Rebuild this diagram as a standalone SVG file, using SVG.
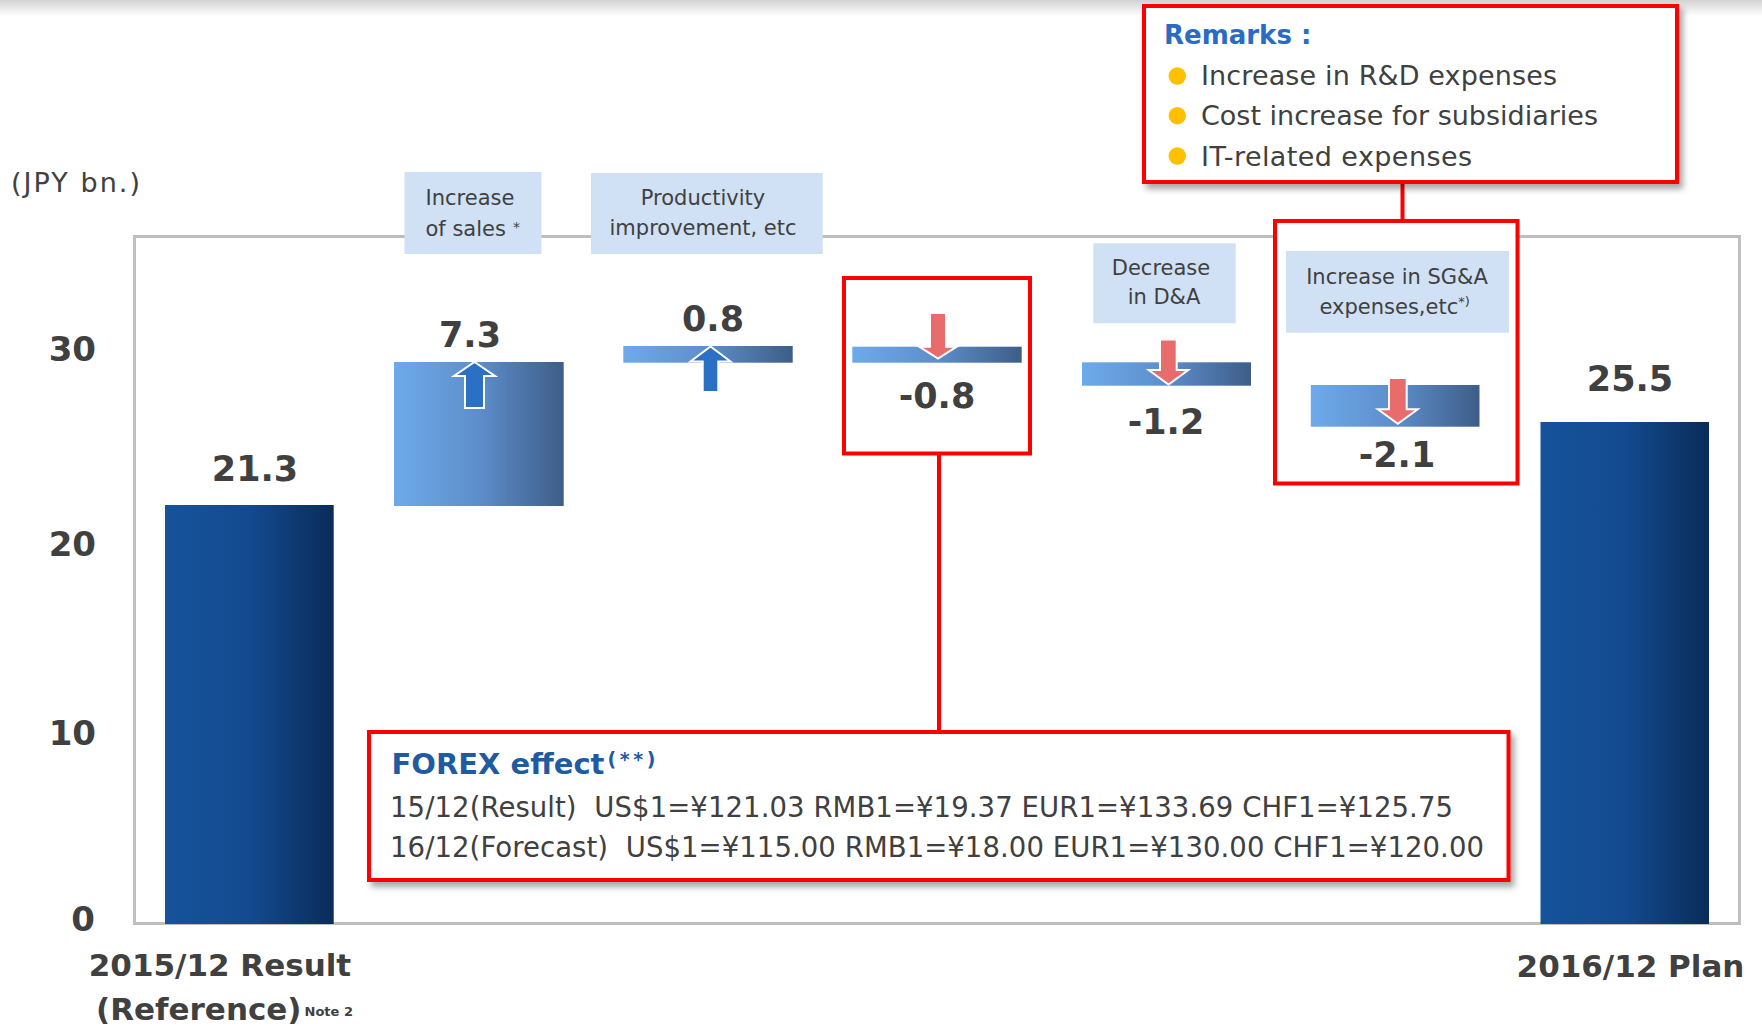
<svg xmlns="http://www.w3.org/2000/svg" width="1762" height="1029" viewBox="0 0 1762 1029">
  <style>
    .num { font-family: "DejaVu Sans", Verdana, sans-serif; font-weight: bold; fill: #404040; }
    .val { font-size: 35px; text-anchor: middle; }
    .tick { font-size: 34px; text-anchor: end; }
    .cat { font-size: 31px; }
    .txt { font-family: "DejaVu Sans", Verdana, sans-serif; fill: #404040; }
    .lbl { font-size: 21px; text-anchor: middle; }
    .tag { fill: #d0e1f5; }
    .callout { fill: #ffffff; stroke: #ff0000; stroke-width: 4; }
    .link { stroke: #ff0000; stroke-width: 4; fill: none; }
    .up { fill: #2a70c4; stroke: #ffffff; stroke-width: 2; stroke-linejoin: miter; }
    .down { fill: #e96c6c; stroke: #ffffff; stroke-width: 2; stroke-linejoin: miter; }
    .dot { fill: #ffc000; }
    .pre { white-space: pre; }
  </style>
  <defs>
    <linearGradient id="gTop" x1="0" y1="0" x2="0" y2="1">
      <stop offset="0" stop-color="#d2d2d2"/>
      <stop offset="1" stop-color="#ffffff"/>
    </linearGradient>
    <linearGradient id="gTotal" x1="0" y1="0" x2="1" y2="0">
      <stop offset="0" stop-color="#16539b"/>
      <stop offset="0.5" stop-color="#134a8f"/>
      <stop offset="1" stop-color="#0a2c58"/>
    </linearGradient>
    <linearGradient id="gDelta" x1="0" y1="0" x2="1" y2="0">
      <stop offset="0" stop-color="#6daaea"/>
      <stop offset="0.5" stop-color="#5d8ecb"/>
      <stop offset="1" stop-color="#3e5d88"/>
    </linearGradient>
    <filter id="shadow" x="-5%" y="-10%" width="115%" height="130%">
      <feDropShadow dx="4" dy="5" stdDeviation="3" flood-color="#000000" flood-opacity="0.35"/>
    </filter>
  </defs>

  <rect x="0" y="0" width="1762" height="1029" fill="#ffffff"/>
  <rect x="0" y="0" width="1762" height="16" fill="url(#gTop)"/>

  <!-- plot area and axis -->
  <g id="axis">
    <rect x="134.5" y="236.5" width="1605" height="687" fill="none" stroke="#bfbfbf" stroke-width="3"/>
    <text class="txt" x="11" y="192" font-size="27" textLength="129">(JPY bn.)</text>
    <text class="num tick" x="96" y="361">30</text>
    <text class="num tick" x="96" y="556">20</text>
    <text class="num tick" x="96" y="745">10</text>
    <text class="num tick" x="95" y="931">0</text>
  </g>

  <!-- connectors between callouts -->
  <g id="connectors">
    <line class="link" x1="939" y1="453" x2="939" y2="732"/>
    <line class="link" x1="1402.5" y1="182" x2="1402.5" y2="221"/>
  </g>

  <!-- 2015/12 result -->
  <g id="bar-2015">
    <rect x="165" y="505" width="168.7" height="419" fill="url(#gTotal)"/>
    <text class="num val" x="255" y="481">21.3</text>
    <text class="num cat" x="220" y="976" text-anchor="middle">2015/12 Result</text>
    <text class="num cat" x="96" y="1020">(Reference)<tspan font-size="13" dx="3" dy="-4">Note 2</tspan></text>
  </g>

  <!-- increase of sales -->
  <g id="step-sales">
    <rect class="tag" x="404.5" y="172" width="137" height="82"/>
    <text class="txt lbl" x="470" y="205">Increase</text>
    <text class="txt" x="425.5" y="236" font-size="21">of sales<tspan font-size="14" dx="7" dy="-4">*</tspan></text>
    <rect x="394" y="362" width="169.7" height="144" fill="url(#gDelta)"/>
    <polygon class="up" points="474.5,362 495,376 484,376 484,408 465,408 465,376 454,376"/>
    <text class="num val" x="470" y="347">7.3</text>
  </g>

  <!-- productivity improvement -->
  <g id="step-productivity">
    <rect class="tag" x="591" y="173" width="231.7" height="81"/>
    <text class="txt lbl" x="703" y="205">Productivity</text>
    <text class="txt lbl" x="703" y="235">improvement, etc</text>
    <rect x="623.3" y="346" width="169.4" height="16.7" fill="url(#gDelta)"/>
    <polygon class="up" points="710.5,346.5 730.5,361.5 718.3,361.5 718.3,392 702.7,392 702.7,361.5 690.5,361.5"/>
    <text class="num val" x="713" y="331">0.8</text>
  </g>

  <!-- -0.8 step with FOREX callout -->
  <g id="step-forex">
    <rect class="callout" x="844" y="278" width="186" height="175.5"/>
    <rect x="852.3" y="346.7" width="169.4" height="16" fill="url(#gDelta)"/>
    <polygon class="down" points="930,313 946,313 946,346.7 956.7,346.7 938,358.5 919.3,346.7 930,346.7"/>
    <text class="num val" x="937" y="408">-0.8</text>
  </g>

  <g id="forex-note">
    <rect class="callout" x="369" y="732" width="1139.5" height="148" filter="url(#shadow)"/>
    <text x="391.5" y="773.5" font-family="DejaVu Sans, Verdana, sans-serif" font-weight="bold" font-size="29" fill="#1f5ba3">FOREX effect</text>
    <text x="607.5" y="766" font-family="DejaVu Sans, Verdana, sans-serif" font-weight="bold" font-size="19" fill="#1f5ba3" textLength="48">(**)</text>
    <text class="txt pre" xml:space="preserve" x="390" y="816.5" font-size="27.5" textLength="1063">15/12(Result)  US$1=¥121.03 RMB1=¥19.37 EUR1=¥133.69 CHF1=¥125.75</text>
    <text class="txt pre" xml:space="preserve" x="390" y="856.5" font-size="27.5" textLength="1094">16/12(Forecast)  US$1=¥115.00 RMB1=¥18.00 EUR1=¥130.00 CHF1=¥120.00</text>
  </g>

  <!-- decrease in D&A -->
  <g id="step-da">
    <rect class="tag" x="1093.3" y="243.3" width="142.4" height="80"/>
    <text class="txt lbl" x="1161" y="275">Decrease</text>
    <text class="txt lbl" x="1164" y="304">in D&amp;A</text>
    <rect x="1082" y="362.3" width="169" height="23.4" fill="url(#gDelta)"/>
    <polygon class="down" points="1160,339.5 1176.7,339.5 1176.7,370 1188.3,370 1168.5,384.5 1148.7,370 1160,370"/>
    <text class="num val" x="1166" y="434">-1.2</text>
  </g>

  <!-- increase in SG&A with remarks -->
  <g id="step-sga">
    <rect class="callout" x="1275" y="221" width="242.5" height="262.5"/>
    <rect class="tag" x="1286" y="251" width="223" height="81.7"/>
    <text class="txt lbl" x="1397" y="283.5">Increase in SG&amp;A</text>
    <text class="txt" x="1319.5" y="313.5" font-size="21">expenses,etc<tspan font-size="13" dy="-8">*)</tspan></text>
    <rect x="1310.8" y="385" width="168.7" height="41.7" fill="url(#gDelta)"/>
    <polygon class="down" points="1389,378 1406.7,378 1406.7,409.3 1417.7,409.3 1397.8,423.8 1377.9,409.3 1389,409.3"/>
    <text class="num val" x="1397" y="467">-2.1</text>
  </g>

  <g id="remarks">
    <rect class="callout" x="1144" y="6" width="533" height="176" filter="url(#shadow)"/>
    <text x="1164" y="43.5" font-family="DejaVu Sans, Verdana, sans-serif" font-weight="bold" font-size="26" fill="#2a6cc4">Remarks :</text>
    <circle class="dot" cx="1177.3" cy="76" r="8.7"/>
    <circle class="dot" cx="1177.3" cy="115.7" r="8.7"/>
    <circle class="dot" cx="1177.3" cy="156" r="8.7"/>
    <text class="txt" x="1201" y="85" font-size="27" textLength="356">Increase in R&amp;D expenses</text>
    <text class="txt" x="1201" y="125" font-size="27" textLength="397">Cost increase for subsidiaries</text>
    <text class="txt" x="1201" y="165.5" font-size="27" textLength="271">IT-related expenses</text>
  </g>

  <!-- 2016/12 plan -->
  <g id="bar-2016">
    <rect x="1540.5" y="422" width="168.5" height="502" fill="url(#gTotal)"/>
    <text class="num val" x="1630" y="391">25.5</text>
    <text class="num cat" x="1630.5" y="976.5" text-anchor="middle">2016/12 Plan</text>
  </g>
</svg>
